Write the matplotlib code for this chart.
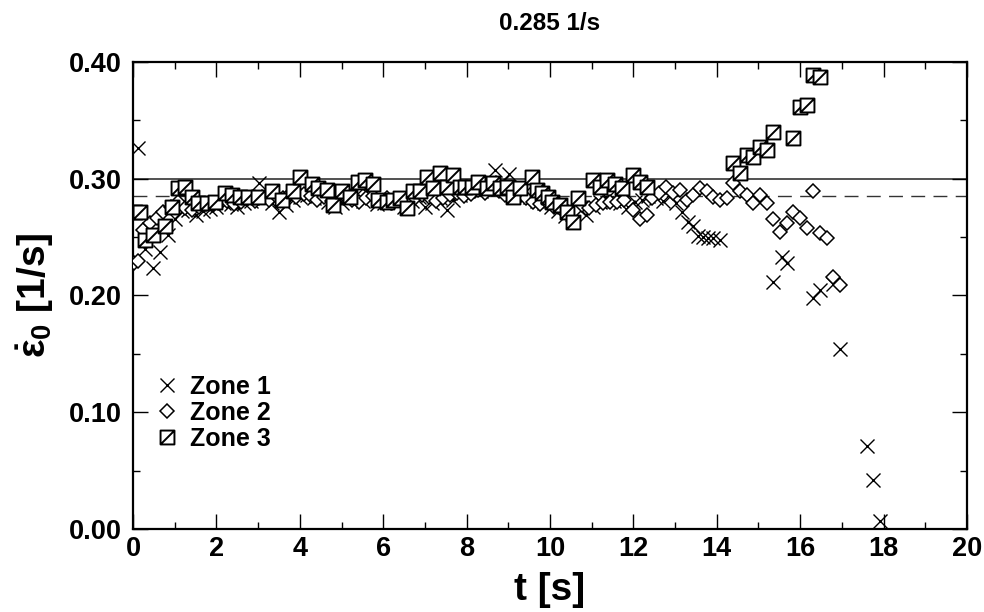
import matplotlib
matplotlib.use("Agg")
import matplotlib.pyplot as plt
from matplotlib.path import Path
from matplotlib.ticker import MultipleLocator, FormatStrFormatter

plt.rcParams['font.family'] = ['Liberation Sans', 'DejaVu Sans']
plt.rcParams['font.weight'] = 'bold'
plt.rcParams['mathtext.fontset'] = 'custom'
plt.rcParams['mathtext.rm'] = 'Liberation Sans:bold'
plt.rcParams['mathtext.it'] = 'Liberation Sans:bold'
plt.rcParams['mathtext.bf'] = 'Liberation Sans:bold'

# ---------------- data ----------------
title_text = "0.285 1/s"
ref_solid = 0.30
ref_dashed = 0.285

zone1_t = [0.12, 0.29, 0.48, 0.65, 0.84, 1.00, 1.17, 1.33, 1.50, 1.67, 1.84, 2.00,
           2.17, 2.34, 2.50, 2.67, 2.84, 3.01, 3.17, 3.34, 3.51, 3.67, 3.84, 4.01,
           4.17, 4.34, 4.51, 4.68, 4.84, 5.01, 5.18, 5.34, 5.51, 5.68, 5.84, 6.01,
           6.18, 6.35, 6.51, 6.68, 6.85, 7.01, 7.18, 7.35, 7.52, 7.68, 7.85, 8.02,
           8.18, 8.35, 8.52, 8.68, 8.85, 9.02, 9.19, 9.35, 9.52, 9.69, 9.85, 10.02,
           10.19, 10.36, 10.52, 10.69, 10.86, 11.02, 11.19, 11.36, 11.53, 11.69, 11.86,
           12.03, 12.20, 12.36, 12.53, 12.70, 12.87, 13.03, 13.17, 13.31, 13.43, 13.55,
           13.67, 13.79, 13.91, 14.08, 15.35, 15.56, 15.68, 16.31, 16.47, 16.79, 16.95,
           17.60, 17.75, 17.91]
zone1_v = [0.326, 0.240, 0.223, 0.237, 0.252, 0.265, 0.272, 0.273, 0.269, 0.272, 0.274, 0.276,
           0.279, 0.278, 0.276, 0.279, 0.281, 0.296, 0.283, 0.279, 0.271, 0.277, 0.282, 0.284,
           0.286, 0.283, 0.285, 0.280, 0.276, 0.279, 0.283, 0.286, 0.281, 0.285, 0.278, 0.279,
           0.282, 0.279, 0.276, 0.281, 0.284, 0.276, 0.279, 0.283, 0.273, 0.282, 0.286, 0.289,
           0.291, 0.289, 0.293, 0.307, 0.297, 0.304, 0.292, 0.287, 0.284, 0.281, 0.279, 0.276,
           0.272, 0.268, 0.270, 0.274, 0.269, 0.276, 0.280, 0.283, 0.281, 0.279, 0.276,
           0.280, 0.282, 0.285, 0.283, 0.281, 0.285, 0.279, 0.271, 0.263, 0.259, 0.251,
           0.250, 0.249, 0.249, 0.247, 0.211, 0.233, 0.228, 0.198, 0.205, 0.210, 0.154,
           0.071, 0.042, 0.007]

zone2_t = [0.02, 0.12, 0.24, 0.41, 0.58, 0.72, 0.91, 1.08, 1.25, 1.41, 1.58, 1.75,
           1.92, 2.08, 2.25, 2.42, 2.58, 2.75, 2.92, 3.09, 3.25, 3.42, 3.59, 3.75,
           3.92, 4.09, 4.26, 4.42, 4.59, 4.76, 4.92, 5.09, 5.26, 5.42, 5.59, 5.76,
           5.93, 6.09, 6.26, 6.43, 6.59, 6.76, 6.93, 7.10, 7.26, 7.43, 7.60, 7.76,
           7.93, 8.10, 8.27, 8.43, 8.60, 8.77, 8.93, 9.10, 9.27, 9.43, 9.60, 9.77,
           9.94, 10.10, 10.27, 10.44, 10.60, 10.77, 10.94, 11.10, 11.27, 11.44, 11.60,
           11.77, 11.99, 12.16, 12.33, 12.44, 12.61, 12.78, 12.95, 13.12, 13.29, 13.43,
           13.60, 13.77, 13.91, 14.08, 14.24, 14.39, 14.56, 14.72, 14.87, 15.04, 15.20,
           15.35, 15.52, 15.68, 15.83, 16.00, 16.16, 16.31, 16.47, 16.64, 16.79, 16.95]
zone2_v = [0.228, 0.229, 0.256, 0.262, 0.266, 0.271, 0.276, 0.280, 0.275, 0.273, 0.276, 0.278,
           0.277, 0.279, 0.281, 0.278, 0.280, 0.283, 0.281, 0.284, 0.282, 0.285, 0.283, 0.286,
           0.284, 0.287, 0.285, 0.282, 0.284, 0.281, 0.283, 0.285, 0.282, 0.280, 0.283, 0.285,
           0.281, 0.283, 0.280, 0.282, 0.279, 0.283, 0.286, 0.284, 0.281, 0.283, 0.286, 0.288,
           0.285, 0.287, 0.290, 0.288, 0.291, 0.289, 0.286, 0.288, 0.285, 0.283, 0.280, 0.278,
           0.279, 0.276, 0.274, 0.271, 0.273, 0.277, 0.275, 0.277, 0.279, 0.280, 0.280,
           0.282, 0.273, 0.265, 0.269, 0.283, 0.288, 0.293, 0.288, 0.290, 0.282, 0.286,
           0.292, 0.289, 0.284, 0.282, 0.283, 0.296, 0.289, 0.286, 0.279, 0.286, 0.279,
           0.265, 0.254, 0.262, 0.271, 0.266, 0.258, 0.289, 0.253, 0.249, 0.216, 0.209]

zone3_t = [0.05, 0.17, 0.29, 0.48, 0.77, 0.94, 1.08, 1.25, 1.41, 1.56, 1.77, 1.97,
           2.21, 2.37, 2.57, 2.76, 3.00, 3.33, 3.57, 3.84, 4.00, 4.29, 4.44, 4.65,
           4.80, 5.01, 5.20, 5.40, 5.56, 5.76, 5.88, 6.09, 6.24, 6.40, 6.57, 6.71,
           6.88, 7.05, 7.19, 7.36, 7.53, 7.67, 7.84, 7.96, 8.13, 8.27, 8.49, 8.63,
           8.80, 8.97, 9.11, 9.28, 9.57, 9.69, 9.81, 9.95, 10.05, 10.24, 10.41, 10.55,
           10.67, 11.03, 11.20, 11.37, 11.56, 11.73, 11.99, 12.16, 12.32, 14.39, 14.56,
           14.72, 14.87, 15.04, 15.20, 15.35, 15.83, 16.00, 16.16, 16.31, 16.47]
zone3_v = [0.271, 0.271, 0.247, 0.252, 0.259, 0.276, 0.292, 0.293, 0.284, 0.279, 0.279, 0.280,
           0.288, 0.286, 0.284, 0.284, 0.284, 0.289, 0.282, 0.289, 0.301, 0.295, 0.292, 0.290,
           0.277, 0.289, 0.284, 0.297, 0.299, 0.295, 0.282, 0.280, 0.282, 0.283, 0.275, 0.289,
           0.289, 0.301, 0.292, 0.305, 0.293, 0.303, 0.293, 0.293, 0.293, 0.297, 0.292, 0.296,
           0.292, 0.293, 0.284, 0.292, 0.301, 0.290, 0.288, 0.284, 0.280, 0.277, 0.271, 0.263,
           0.283, 0.299, 0.293, 0.299, 0.295, 0.292, 0.303, 0.297, 0.293, 0.313, 0.305,
           0.320, 0.318, 0.327, 0.324, 0.340, 0.335, 0.361, 0.363, 0.389, 0.387]

labels = ["Zone 1", "Zone 2", "Zone 3"]

# ---------------- figure ----------------
fig = plt.figure(figsize=(9.84, 6.12), dpi=100)
ax = fig.add_axes([0.1352, 0.1356, 0.8475, 0.7636])

ax.axhline(ref_solid, color='#333333', lw=1.2, zorder=1)
ax.axhline(ref_dashed, color='#333333', lw=1.0, dashes=(10, 6), zorder=1)

sq_path = Path([(-1, -1), (1, -1), (1, 1), (-1, 1), (-1, -1), (-1, -1), (1, 1)],
               [Path.MOVETO, Path.LINETO, Path.LINETO, Path.LINETO, Path.CLOSEPOLY,
                Path.MOVETO, Path.LINETO])

ax.plot(zone1_t, zone1_v, ls='none', marker='x', ms=10, mew=1.0, color='black',
        label=labels[0], zorder=3)
ax.plot(zone2_t, zone2_v, ls='none', marker='D', ms=7.0, mew=1.1, mec='black', mfc='white',
        label=labels[1], zorder=4)
ax.plot(zone3_t, zone3_v, ls='none', marker=sq_path, ms=10, mew=1.4, mec='black', mfc='white',
        label=labels[2], zorder=5)

ax.set_xlim(0, 20)
ax.set_ylim(0, 0.40)
ax.xaxis.set_major_locator(MultipleLocator(2))
ax.xaxis.set_minor_locator(MultipleLocator(1))
ax.yaxis.set_major_locator(MultipleLocator(0.10))
ax.yaxis.set_minor_locator(MultipleLocator(0.05))
ax.yaxis.set_major_formatter(FormatStrFormatter('%.2f'))
ax.tick_params(which='both', direction='in', top=True, right=True, width=1.0, colors='black')
ax.tick_params(which='major', length=11, labelsize=19.5, pad=5)
ax.tick_params(axis='y', which='major', pad=8)
ax.tick_params(which='minor', length=5)
for lab in ax.get_xticklabels() + ax.get_yticklabels():
    lab.set_fontweight('bold')
for s in ax.spines.values():
    s.set_linewidth(1.6)

ax.set_xlabel("t [s]", fontsize=28, fontweight='bold', labelpad=7)
ax.set_ylabel(r"$\dot{\varepsilon}_0$ [1/s]", fontsize=28, fontweight='bold', labelpad=9)
ax.set_title(title_text, fontsize=17.5, fontweight='bold', pad=23)

leg = ax.legend(loc='upper left', bbox_to_anchor=(0.02, 0.34), frameon=False,
                prop={'size': 18, 'weight': 'bold'}, handlelength=1.0, handletextpad=0.4,
                labelspacing=0.08, borderpad=0.2, borderaxespad=0)

fig.savefig("out.png", dpi=100)
